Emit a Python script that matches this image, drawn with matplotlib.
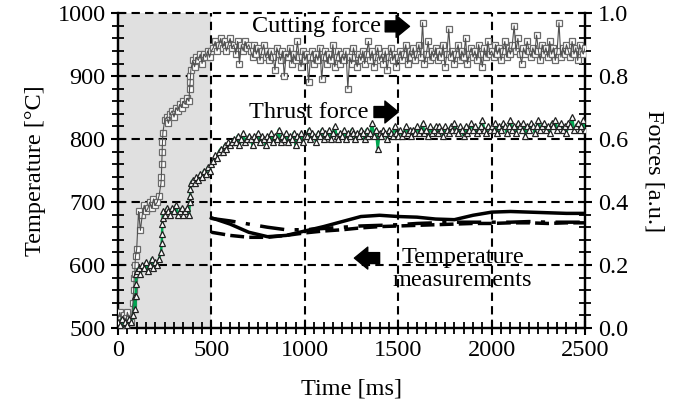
import numpy as np
import matplotlib
matplotlib.use("Agg")
import matplotlib.pyplot as plt
from matplotlib.ticker import MultipleLocator

plt.rcParams["font.family"] = ["Liberation Serif", "DejaVu Serif"]
plt.rcParams["font.size"] = 17.5

# ---- data ----
# forces sampled every 10 ms (0..2500), plus extra points on the steep jumps
force_t = np.arange(0, 2510, 10)

cutting = [
    0.03, 0.05, 0.02, 0.04, 0.01, 0.05, 0.03, 0.02, 0.08, 0.17,
    0.25, 0.37, 0.31, 0.36, 0.39, 0.37, 0.38, 0.40, 0.38, 0.41,
    0.39, 0.40, 0.42, 0.46, 0.62, 0.66, 0.67, 0.65, 0.68, 0.69,
    0.67, 0.70, 0.69, 0.71, 0.70, 0.72, 0.71, 0.73, 0.72, 0.82,
    0.85, 0.83, 0.86, 0.85, 0.87, 0.84, 0.87, 0.86, 0.88, 0.86,
    0.88,
    0.89, 0.91, 0.88, 0.90, 0.92, 0.89, 0.91, 0.88, 0.90, 0.92,
    0.89, 0.90, 0.87, 0.91, 0.84, 0.90, 0.88, 0.91, 0.89, 0.90,
    0.88, 0.86, 0.90, 0.87, 0.89, 0.85, 0.88, 0.90, 0.86, 0.88,
    0.85, 0.88, 0.86, 0.82, 0.89, 0.87, 0.85, 0.88, 0.80, 0.87,
    0.86, 0.89, 0.84, 0.87, 0.85, 0.91, 0.86, 0.83, 0.88, 0.85,
    0.87, 0.78, 0.86, 0.88, 0.84, 0.87, 0.85, 0.89, 0.79, 0.86,
    0.88, 0.84, 0.87, 0.85, 0.90, 0.83, 0.86, 0.88, 0.84, 0.87,
    0.85, 0.88, 0.76, 0.86, 0.84, 0.89, 0.86, 0.83, 0.87, 0.85,
    0.88, 0.84, 0.87, 0.91, 0.85, 0.88, 0.83, 0.86, 0.89, 0.85,
    0.87, 0.84, 0.88, 0.82, 0.86, 0.89, 0.85, 0.87, 0.83, 0.86,
    0.88, 0.85, 0.87, 0.90, 0.84, 0.88, 0.86, 0.89, 0.85, 0.87,
    0.90, 0.86, 0.97, 0.84, 0.87, 0.91, 0.85, 0.88, 0.86, 0.89,
    0.85, 0.88, 0.86, 0.90, 0.83, 0.87, 0.95, 0.86, 0.88, 0.84,
    0.87, 0.90, 0.85, 0.88, 0.86, 0.92, 0.84, 0.87, 0.89, 0.86,
    0.88, 0.85, 0.90, 0.87, 0.83, 0.89, 0.86, 0.91, 0.87, 0.88,
    0.86, 0.90, 0.87, 0.89, 0.85, 0.88, 0.91, 0.86, 0.89, 0.87,
    0.90, 0.96, 0.88, 0.92, 0.87, 0.84, 0.89, 0.87, 0.91, 0.88,
    0.86, 0.89, 0.87, 0.93, 0.88, 0.85, 0.90, 0.87, 0.89, 0.86,
    0.91, 0.87, 0.89, 0.85, 0.88, 0.97, 0.86, 0.89, 0.87, 0.90,
    0.88, 0.86, 0.91, 0.87, 0.89, 0.85, 0.90, 0.88, 0.87, 0.89,
]
cutting_jump_t = [84, 87, 91, 94, 232, 234, 236, 238, 383, 386, 388]
cutting_jump_f = [0.12, 0.16, 0.20, 0.23, 0.48, 0.52, 0.56, 0.59, 0.76, 0.78, 0.80]

thrust = [
    0.02, 0.01, 0.03, 0.00, 0.02, 0.01, 0.03, 0.02, 0.04, 0.10,
    0.18, 0.19, 0.17, 0.20, 0.19, 0.21, 0.18, 0.20, 0.22, 0.19,
    0.21, 0.20, 0.22, 0.24, 0.37, 0.36, 0.38, 0.37, 0.36, 0.38,
    0.37, 0.39, 0.36, 0.37, 0.38, 0.36, 0.37, 0.38, 0.36, 0.46,
    0.47, 0.46, 0.48, 0.47, 0.49, 0.48, 0.50, 0.49, 0.51, 0.50,
    0.52,
    0.53, 0.55, 0.54, 0.56, 0.57, 0.56, 0.58, 0.57, 0.59, 0.58,
    0.59, 0.60, 0.59, 0.61, 0.58, 0.60, 0.62, 0.59, 0.60, 0.61,
    0.60, 0.58, 0.61, 0.60, 0.62, 0.59, 0.61, 0.60, 0.58, 0.61,
    0.60, 0.62, 0.59, 0.61, 0.60, 0.63, 0.59, 0.61, 0.60, 0.62,
    0.59, 0.61, 0.60, 0.62, 0.58, 0.61, 0.60, 0.62, 0.59, 0.61,
    0.61, 0.63, 0.60, 0.62, 0.61, 0.59, 0.62, 0.61, 0.63, 0.60,
    0.62, 0.61, 0.63, 0.60, 0.62, 0.64, 0.61, 0.60, 0.62, 0.61,
    0.63, 0.60, 0.62, 0.61, 0.63, 0.62, 0.60, 0.62, 0.61, 0.63,
    0.62, 0.60, 0.63, 0.61, 0.62, 0.65, 0.61, 0.63, 0.57, 0.62,
    0.61, 0.63, 0.62, 0.60, 0.63, 0.62, 0.61, 0.64, 0.62, 0.61,
    0.63, 0.61, 0.62, 0.64, 0.62, 0.63, 0.61, 0.63, 0.62, 0.64,
    0.62, 0.63, 0.65, 0.62, 0.63, 0.61, 0.64, 0.62, 0.63, 0.64,
    0.62, 0.64, 0.63, 0.61, 0.64, 0.63, 0.62, 0.64, 0.63, 0.65,
    0.63, 0.62, 0.64, 0.63, 0.61, 0.64, 0.62, 0.63, 0.65, 0.63,
    0.64, 0.62, 0.63, 0.64, 0.66, 0.63, 0.62, 0.64, 0.63, 0.64,
    0.63, 0.65, 0.62, 0.64, 0.63, 0.65, 0.64, 0.62, 0.64, 0.66,
    0.63, 0.64, 0.62, 0.65, 0.64, 0.63, 0.65, 0.61, 0.64, 0.63,
    0.65, 0.64, 0.62, 0.64, 0.66, 0.63, 0.64, 0.65, 0.63, 0.64,
    0.62, 0.65, 0.64, 0.66, 0.63, 0.64, 0.65, 0.63, 0.64, 0.62,
    0.65, 0.64, 0.67, 0.63, 0.64, 0.65, 0.63, 0.64, 0.66, 0.63,
]
thrust_jump_t = [92, 94, 96, 98, 234, 236, 237, 239, 385, 386, 388]
thrust_jump_f = [0.06, 0.10, 0.14, 0.17, 0.27, 0.30, 0.33, 0.35, 0.40, 0.42, 0.44]

# temperature traces (every 100 ms from 500 to 2500)
temp_t = np.arange(500, 2600, 100)
temp_solid = [675, 665, 652, 645, 647, 654, 661, 669, 677, 679, 677,
              676, 673, 672, 679, 684, 685, 684, 683, 682, 682]
temp_dashdot = [674, 670, 665, 660, 656, 656, 658, 660, 662, 663, 664,
                666, 667, 668, 668, 668, 668, 669, 668, 668, 668]
temp_dashed = [652, 647, 644, 644, 647, 651, 654, 656, 659, 661, 662,
               663, 664, 665, 666, 666, 667, 667, 666, 667, 667]


def merge(t, f, jt, jf):
    tt = np.concatenate([t, jt])
    ff = np.concatenate([f, jf])
    order = np.argsort(tt, kind="stable")
    return tt[order], ff[order]


cut_t, cut_f = merge(force_t, cutting, cutting_jump_t, cutting_jump_f)
thr_t, thr_f = merge(force_t, thrust, thrust_jump_t, thrust_jump_f)

fig = plt.figure(figsize=(6.86, 4.11), dpi=100)
ax = fig.add_axes([0.172, 0.202, 0.681, 0.766])
ax2 = ax.twinx()

ax.set_xlim(0, 2500)
ax.set_ylim(500, 1000)
ax2.set_ylim(0, 1)

# shaded transient region
ax.axvspan(0, 500, color="#e0e0e0", lw=0, zorder=0)

# dashed grid
grid_kw = dict(color="black", lw=1.5, ls=(0, (4, 2.5)), zorder=1, clip_on=False)
for x in [500, 1000, 1500, 2000]:
    ax.axvline(x, **grid_kw)
for y in [600, 700, 800, 900, 1000]:
    ax.axhline(y, **grid_kw)

# temperatures
ax.plot(temp_t, temp_solid, color="black", lw=2.5, zorder=3)
ax.plot(temp_t, temp_dashdot, color="black", lw=2.5, ls=(0, (7, 3, 1.2, 3)), zorder=3)
ax.plot(temp_t, temp_dashed, color="black", lw=2.5, ls=(0, (4, 1.5)), zorder=3)

# forces: cutting squares with the trace drawn over them
ax2.plot(cut_t, cut_f, ls="none", marker="s", ms=4.4,
         mfc="white", mec="#6a6a6a", mew=0.9, zorder=3)
ax2.plot(cut_t, cut_f, color="#505050", lw=0.8, zorder=3.5)
# thrust triangles over a green trace
ax2.plot(thr_t, thr_f, color="#00a651", lw=1.8, zorder=3)
ax2.plot(thr_t, thr_f, ls="none", marker="^", ms=4.6,
         mfc="white", mec="#202020", mew=0.9, zorder=4)

# annotations
arrow_kw = dict(arrowstyle="simple,head_length=0.55,head_width=0.9,tail_width=0.45",
                color="black", shrinkA=0, shrinkB=0)
ax.text(1405, 979, "Cutting force", ha="right", va="center", zorder=5)
ax.annotate("", xy=(1560, 979), xytext=(1430, 979), arrowprops=arrow_kw, zorder=5)
ax.text(1340, 843, "Thrust force", ha="right", va="center", zorder=5)
ax.annotate("", xy=(1500, 843), xytext=(1370, 843), arrowprops=arrow_kw, zorder=5)
ax.annotate("", xy=(1265, 611), xytext=(1400, 611), arrowprops=arrow_kw, zorder=5)
ax.text(1845, 594, "Temperature\nmeasurements", ha="center", va="center",
        linespacing=1.1, zorder=5)

# axes styling
for a in (ax, ax2):
    for s in ("left", "right", "bottom"):
        a.spines[s].set_linewidth(1.6)
    a.spines["top"].set_visible(False)

ax.xaxis.set_major_locator(MultipleLocator(500))
ax.xaxis.set_minor_locator(MultipleLocator(50))
ax.yaxis.set_major_locator(MultipleLocator(100))
ax.yaxis.set_minor_locator(MultipleLocator(20))
ax2.yaxis.set_major_locator(MultipleLocator(0.2))
ax2.yaxis.set_minor_locator(MultipleLocator(0.04))
ax2.set_yticklabels([f"{v:.1f}" for v in ax2.get_yticks()])

ax.tick_params(which="major", direction="inout", length=10, width=1.5, labelsize=17.5, pad=4)
ax.tick_params(which="minor", direction="inout", length=8, width=1.3)
ax.tick_params(axis="x", which="both", top=False)
ax.tick_params(axis="y", which="both", right=False)
ax2.tick_params(which="major", direction="inout", length=10, width=1.5, labelsize=17.5, pad=4)
ax2.tick_params(which="minor", direction="inout", length=8, width=1.3)

ax.set_xlabel("Time [ms]", labelpad=12)
ax.set_ylabel("Temperature [\u00b0C]", labelpad=8)
ax2.set_ylabel("Forces [a.u.]", rotation=270, labelpad=26)

fig.savefig("out.png", dpi=100)
